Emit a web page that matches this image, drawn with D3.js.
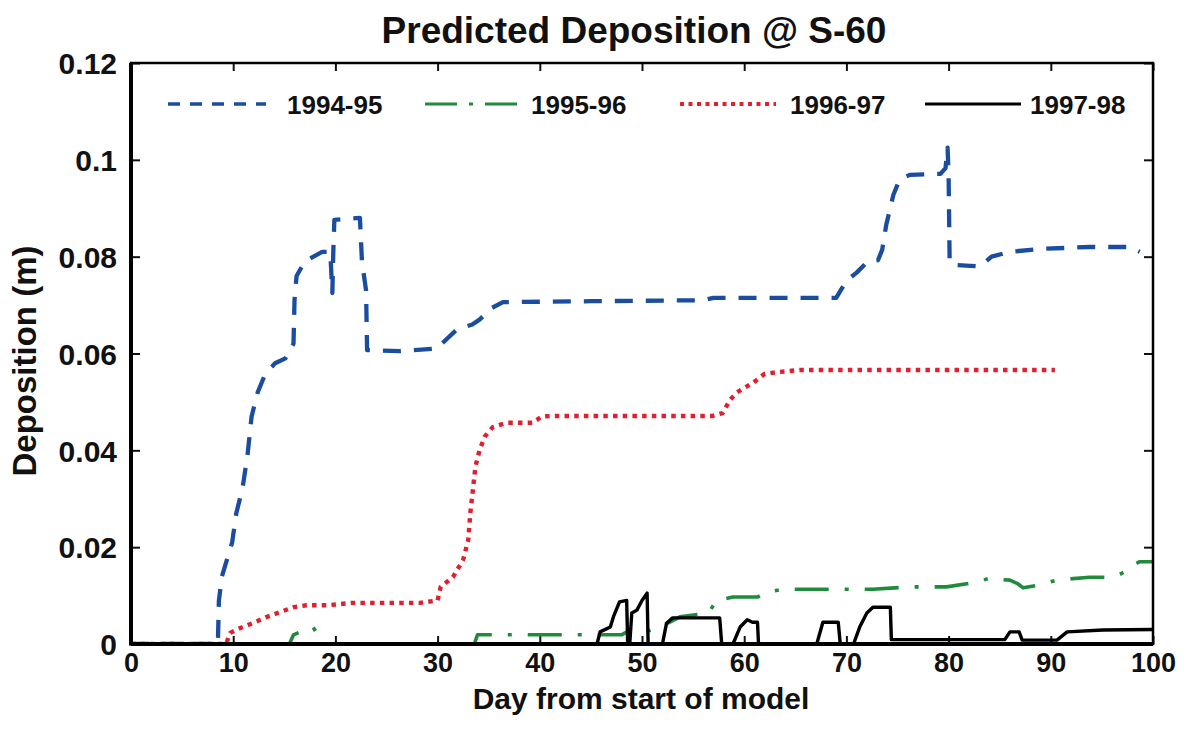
<!DOCTYPE html>
<html>
<head>
<meta charset="utf-8">
<script src="https://cdn.jsdelivr.net/npm/d3@7/dist/d3.min.js"></script>
<style>
  html, body { margin: 0; padding: 0; background: #fff; }
  svg { display: block; }
  text { font-family: "Liberation Sans", Arial, Helvetica, sans-serif; font-weight: bold; fill: #111; }
</style>
</head>
<body>
<svg id="chart" width="1190" height="738"></svg>
<script>
// Predicted deposition (m) at station S-60, by day from start of model run

const xTicks = [0, 10, 20, 30, 40, 50, 60, 70, 80, 90, 100];
const yTicks = [0, 0.02, 0.04, 0.06, 0.08, 0.1, 0.12];

const seasons = ["1994-95", "1995-96", "1996-97", "1997-98"];

// 1994-95
const days9495 = [0, 8.5, 8.6, 8.9, 9.9, 10.3, 10.9, 11.4, 11.8, 12.4, 13.1, 14.1, 15.1, 15.9, 16.0, 16.2, 17.0, 18.7, 19.5, 19.7, 19.8, 19.9, 22.4, 22.6, 23.0, 23.1, 26.3, 29.9, 30.9, 31.9, 33.4, 34.1, 35.3, 36.4, 45, 56, 57, 69, 70, 71, 72.1, 73.1, 73.5, 73.9, 74.6, 75.2, 76.2, 79.2, 79.7, 79.9, 80.0, 80.1, 80.3, 82.1, 83.1, 84.2, 86, 89, 93.8, 97.7, 98.7];
const vals9495 = [0, 0, 0.009, 0.014, 0.021, 0.027, 0.032, 0.039, 0.047, 0.052, 0.0556, 0.058, 0.059, 0.062, 0.071, 0.076, 0.079, 0.081, 0.081, 0.0725, 0.0814, 0.0876, 0.088, 0.079, 0.073, 0.0607, 0.0605, 0.061, 0.063, 0.065, 0.066, 0.067, 0.0694, 0.0706, 0.0708, 0.071, 0.0715, 0.0715, 0.075, 0.0767, 0.079, 0.0793, 0.0814, 0.0866, 0.0928, 0.0959, 0.0969, 0.0971, 0.0983, 0.1025, 0.0969, 0.0793, 0.0783, 0.0781, 0.078, 0.080, 0.081, 0.0816, 0.082, 0.082, 0.081];

// 1995-96
const days9596 = [0, 15.5, 15.9, 16.8, 17.8, 18.2, 18.5, 19.0, 33.6, 33.9, 44.6, 48.0, 48.8, 50.8, 51.8, 53.7, 56.5, 57.3, 58.9, 61.3, 62.2, 63.8, 69, 72.6, 76.2, 79.8, 82.8, 84.0, 85.0, 86.0, 86.8, 87.3, 88.9, 90.6, 93.8, 95.6, 96.6, 97.3, 98.0, 98.7, 99.9];
const vals9596 = [0, 0, 0.0019, 0.0027, 0.0035, 0.0022, 0.0019, 0, 0, 0.0019, 0.0019, 0.0019, 0.0028, 0.0028, 0.0035, 0.0056, 0.0064, 0.009, 0.0097, 0.0097, 0.0107, 0.0113, 0.0113, 0.0113, 0.0118, 0.0118, 0.0128, 0.0136, 0.0133, 0.0132, 0.0124, 0.0116, 0.0122, 0.0132, 0.0138, 0.0138, 0.0142, 0.015, 0.0163, 0.017, 0.017];

// 1996-97
const days9697 = [0, 9.3, 9.7, 10.7, 11.9, 13.3, 14.6, 15.9, 17.2, 19.2, 21.7, 28.3, 30.0, 30.3, 31.5, 32.5, 33.0, 33.2, 33.7, 34.1, 34.6, 35.4, 36.8, 39.3, 40.2, 41.3, 56.9, 57.9, 58.6, 59.3, 60.9, 62.0, 63.5, 65.5, 90.4];
const vals9697 = [0, 0, 0.0023, 0.0033, 0.0043, 0.0056, 0.0066, 0.0076, 0.008, 0.008, 0.0085, 0.0085, 0.009, 0.0118, 0.0138, 0.0174, 0.0215, 0.027, 0.0366, 0.040, 0.0428, 0.0448, 0.0457, 0.0457, 0.047, 0.0471, 0.0471, 0.0477, 0.0504, 0.052, 0.054, 0.0558, 0.0562, 0.0566, 0.0566];

// 1997-98
const days9798 = [0, 45.6, 45.9, 46.9, 47.2, 47.8, 48.5, 48.6, 48.8, 49.0, 49.5, 50.0, 50.5, 50.6, 52.0, 52.4, 53.0, 57.6, 57.8, 58.9, 59.6, 60.3, 60.8, 61.3, 61.4, 67.1, 67.7, 69.2, 69.4, 70.7, 71.3, 72.0, 72.6, 74.3, 74.4, 85.5, 86.0, 86.9, 87.2, 90.6, 91.6, 95.1, 100];
const vals9798 = [0, 0, 0.0025, 0.0035, 0.0056, 0.0087, 0.009, 0, 0, 0.0064, 0.007, 0.009, 0.0105, 0, 0, 0.0043, 0.0054, 0.0054, 0, 0, 0.0035, 0.005, 0.0045, 0.0045, 0, 0, 0.0045, 0.0045, 0, 0, 0.0035, 0.0064, 0.0076, 0.0076, 0.0009, 0.0009, 0.0025, 0.0025, 0.0008, 0.0008, 0.0025, 0.0029, 0.003];

const seriesData = [
  { name: seasons[0], days: days9495, vals: vals9495, color: "#1a4d9f", width: 4.3, dash: "18,13", keyDash: "12,10" },
  { name: seasons[1], days: days9596, vals: vals9596, color: "#1f8b3b", width: 3.6, dash: "34,16,4,16", keyDash: "32,12,4,12" },
  { name: seasons[2], days: days9697, vals: vals9697, color: "#e0202e", width: 4.4, dash: "4.5,5.2", keyDash: "4,4.5" },
  { name: seasons[3], days: days9798, vals: vals9798, color: "#000000", width: 3.4, dash: null, keyDash: null }
];

const svg = d3.select("#chart");
const plotLeft = 131, plotRight = 1153, plotTop = 63, plotBottom = 644;

const x = d3.scaleLinear().domain([0, 100]).range([plotLeft, plotRight]);
const y = d3.scaleLinear().domain([0, 0.12]).range([plotBottom, plotTop]);

// Title
svg.append("text")
  .attr("x", 634).attr("y", 43)
  .attr("text-anchor", "middle")
  .style("font-size", "37px")
  .text("Predicted Deposition @ S-60");

// Axis titles
svg.append("text")
  .attr("x", 641).attr("y", 709)
  .attr("text-anchor", "middle")
  .style("font-size", "30px")
  .text("Day from start of model");

svg.append("text")
  .attr("transform", "translate(36,361) rotate(-90)")
  .attr("text-anchor", "middle")
  .style("font-size", "33px")
  .text("Deposition (m)");

// Axes with inward ticks
const fmtY = d => d === 0 ? "0" : String(+d.toFixed(2));

const gx = svg.append("g").attr("transform", `translate(0,${plotBottom})`)
  .call(d3.axisBottom(x).tickValues(xTicks).tickSize(-8).tickPadding(9).tickFormat(d3.format("d")));
const gxTop = svg.append("g").attr("transform", `translate(0,${plotTop})`)
  .call(d3.axisTop(x).tickValues(xTicks).tickSize(-8).tickFormat(""));
const gy = svg.append("g").attr("transform", `translate(${plotLeft},0)`)
  .call(d3.axisLeft(y).tickValues(yTicks).tickSize(-9).tickPadding(14).tickFormat(fmtY));
const gyRight = svg.append("g").attr("transform", `translate(${plotRight},0)`)
  .call(d3.axisRight(y).tickValues(yTicks).tickSize(-9).tickFormat(""));

[gx, gxTop, gy, gyRight].forEach(g => {
  g.select(".domain").remove();
  g.selectAll(".tick line").attr("stroke", "#111").attr("stroke-width", 2);
  g.selectAll(".tick text")
    .style("font-family", "'Liberation Sans', Arial, sans-serif")
    .style("font-weight", "bold")
    .attr("fill", "#111");
});
gx.selectAll(".tick text").attr("dy", "0.71em").style("font-size", "27px");
gy.selectAll(".tick text").attr("dy", "0.36em").style("font-size", "30px");

// Series
svg.append("clipPath").attr("id", "plotClip")
  .append("rect").attr("x", plotLeft).attr("y", plotTop - 2)
  .attr("width", plotRight - plotLeft).attr("height", plotBottom - plotTop + 4);

const line = d3.line().x(d => x(d[0])).y(d => y(d[1]));

const plot = svg.append("g").attr("clip-path", "url(#plotClip)");
seriesData.forEach(s => {
  const pts = s.days.map((d, i) => [d, s.vals[i]]);
  plot.append("path")
    .datum(pts)
    .attr("d", line)
    .attr("fill", "none")
    .attr("stroke", s.color)
    .attr("stroke-width", s.width)
    .attr("stroke-linejoin", "round")
    .attr("stroke-dasharray", s.dash);
});

// Frame
svg.append("rect")
  .attr("x", plotLeft).attr("y", plotTop)
  .attr("width", plotRight - plotLeft).attr("height", plotBottom - plotTop)
  .attr("fill", "none").attr("stroke", "#000").attr("stroke-width", 2.5);
svg.append("line").attr("x1", plotLeft).attr("x2", plotLeft).attr("y1", plotTop).attr("y2", plotBottom + 1.5)
  .attr("stroke", "#000").attr("stroke-width", 4);
svg.append("line").attr("x1", plotLeft).attr("x2", plotRight).attr("y1", plotBottom).attr("y2", plotBottom)
  .attr("stroke", "#000").attr("stroke-width", 4);

// Legend
const legendY = 104;
const legendItems = [
  { x0: 168, x1: 266, tx: 287 },
  { x0: 425, x1: 520, tx: 531 },
  { x0: 680, x1: 776, tx: 790 },
  { x0: 925, x1: 1021, tx: 1030 }
];
const legend = svg.append("g");
seriesData.forEach((s, i) => {
  const L = legendItems[i];
  legend.append("line")
    .attr("x1", L.x0).attr("x2", L.x1).attr("y1", legendY).attr("y2", legendY)
    .attr("stroke", s.color)
    .attr("stroke-width", s.width - 0.6)
    .attr("stroke-dasharray", s.keyDash);
  legend.append("text")
    .attr("x", L.tx).attr("y", legendY + 10)
    .style("font-size", "26px")
    .text(s.name);
});
</script>
</body>
</html>
